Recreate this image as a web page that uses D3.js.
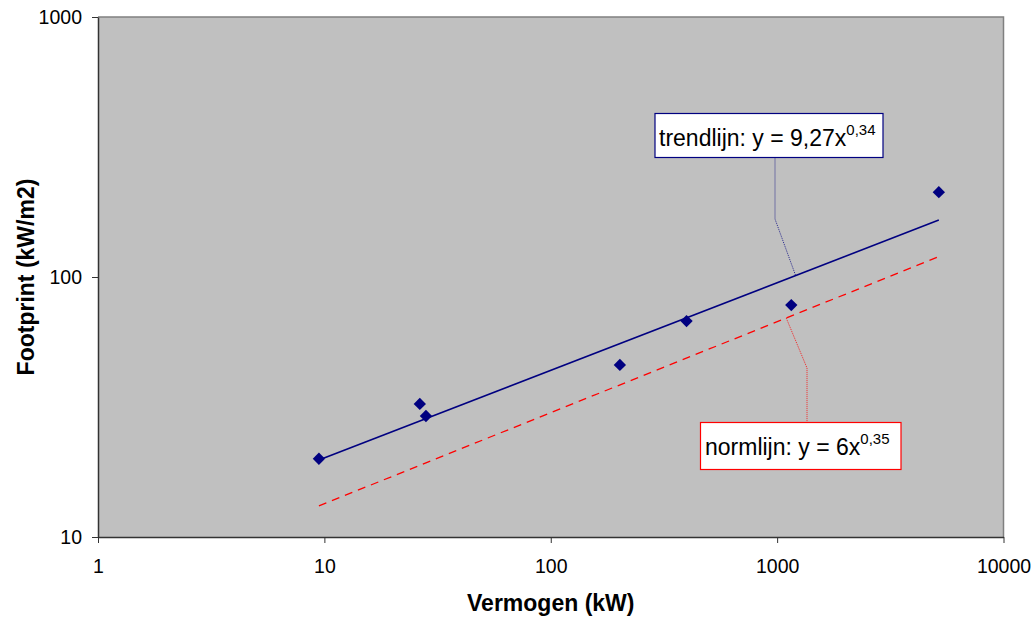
<!DOCTYPE html>
<html>
<head>
<meta charset="utf-8">
<script src="https://cdn.jsdelivr.net/npm/d3@7"></script>
<style>
  html, body { margin: 0; padding: 0; background: #fff; }
  svg { display: block; }
  text { font-family: "Liberation Sans", Arial, sans-serif; fill: #000; }
</style>
</head>
<body>
<svg id="chart" width="1036" height="618"></svg>
<script>
// ---- data ----
const powerKW     = [9.46, 26.4, 28.1, 202, 398, 1155, 5180];
const footprint   = [20.0, 32.5, 29.2, 45.9, 67.7, 78.0, 212];
const xTicks      = [1, 10, 100, 1000, 10000];
const yTicks      = [10, 100, 1000];
const xTickLabels = ["1", "10", "100", "1000", "10000"];
const yTickLabels = ["10", "100", "1000"];
// fitted power-law trend (label shows rounded exponent 0,34)
const trendCoef   = 9.27, trendExp = 0.337;
const normCoef    = 6,    normExp  = 0.35;
const xTitle = "Vermogen (kW)";
const yTitle = "Footprint (kW/m2)";
const trendLabel = ["trendlijn: y = 9,27x", "0,34"];
const normLabel  = ["normlijn: y = 6x", "0,35"];

// ---- layout ----
const svg = d3.select("#chart");
const plot = { left: 98, right: 1003.5, top: 17, bottom: 537 };

const x = d3.scaleLog().domain([1, 10000]).range([plot.left, plot.right]);
const y = d3.scaleLog().domain([10, 1000]).range([plot.bottom, plot.top]);

// plot area background
svg.append("rect")
  .attr("x", plot.left).attr("y", plot.top)
  .attr("width", plot.right - plot.left).attr("height", plot.bottom - plot.top)
  .attr("fill", "#C0C0C0").attr("stroke", "none");
// top/right border (gray)
svg.append("path")
  .attr("d", `M${plot.left},${plot.top}H${plot.right}V${plot.bottom}`)
  .attr("fill", "none").attr("stroke", "#808080").attr("stroke-width", 1.5);

// x axis
const xAxis = d3.axisBottom(x).tickValues(xTicks)
  .tickFormat((d, i) => xTickLabels[i]).tickSizeInner(6).tickSizeOuter(0).tickPadding(16);
const gx = svg.append("g").attr("transform", `translate(0,${plot.bottom})`).call(xAxis);
gx.select(".domain").attr("stroke", "#333").attr("stroke-width", 1.5);
gx.selectAll(".tick line").attr("stroke", "#333");
gx.selectAll(".tick text").attr("font-size", 19.5).attr("font-family", "Liberation Sans, Arial, sans-serif").attr("fill", "#000");

// y axis
const yAxis = d3.axisLeft(y).tickValues(yTicks)
  .tickFormat((d, i) => yTickLabels[i]).tickSizeInner(6).tickSizeOuter(0).tickPadding(10);
const gy = svg.append("g").attr("transform", `translate(${plot.left},0)`).call(yAxis);
gy.select(".domain").attr("stroke", "#333").attr("stroke-width", 1.5);
gy.selectAll(".tick line").attr("stroke", "#333");
gy.selectAll(".tick text").attr("font-size", 19.5).attr("font-family", "Liberation Sans, Arial, sans-serif").attr("fill", "#000");

// axis titles
svg.append("text")
  .attr("x", (plot.left + plot.right) / 2).attr("y", 611)
  .attr("text-anchor", "middle").attr("font-size", 23).attr("font-weight", "bold")
  .text(xTitle);
svg.append("text")
  .attr("transform", `translate(34,${(plot.top + plot.bottom) / 2}) rotate(-90)`)
  .attr("text-anchor", "middle").attr("font-size", 23).attr("font-weight", "bold")
  .text(yTitle);

// trend & norm lines
const xMin = d3.min(powerKW), xMax = d3.max(powerKW);
const line = d3.line().x(d => x(d[0])).y(d => y(d[1]));
const trendPts = [xMin, xMax].map(v => [v, trendCoef * Math.pow(v, trendExp)]);
const normPts  = [xMin, xMax].map(v => [v, normCoef * Math.pow(v, normExp)]);

svg.append("path").attr("d", line(normPts))
  .attr("fill", "none").attr("stroke", "#FF0000").attr("stroke-width", 1.3)
  .attr("stroke-dasharray", "8,6");
svg.append("path").attr("d", line(trendPts))
  .attr("fill", "none").attr("stroke", "#000080").attr("stroke-width", 1.6);

// data points (diamonds)
const diamond = d3.symbol().type(d3.symbolSquare).size(76);
svg.append("g").selectAll("path")
  .data(powerKW.map((v, i) => [v, footprint[i]]))
  .join("path")
  .attr("d", diamond)
  .attr("transform", d => `translate(${x(d[0])},${y(d[1])}) rotate(45)`)
  .attr("fill", "#000080");

// ---- labels with leader lines ----
function label(box, textPos, parts, color, leader) {
  svg.append("path")
    .attr("d", d3.line()(leader))
    .attr("fill", "none").attr("stroke", color).attr("stroke-width", 1)
    .attr("stroke-dasharray", "1,1").attr("opacity", 0.8);
  svg.append("rect")
    .attr("x", box[0]).attr("y", box[1]).attr("width", box[2]).attr("height", box[3])
    .attr("fill", "#fff").attr("stroke", color).attr("stroke-width", 1.2);
  const t = svg.append("text").attr("x", textPos[0]).attr("y", textPos[1]).attr("font-size", 23);
  t.append("tspan").text(parts[0]);
  t.append("tspan").attr("font-size", 15).attr("dy", -11).text(parts[1]);
}

// trend label: leader ends on the trend line
const trendAnchorX = 1207;
const ta = [x(trendAnchorX), y(trendCoef * Math.pow(trendAnchorX, trendExp))];
label([655, 113.5, 228, 44], [659, 146], trendLabel, "#000080",
  [[775, 157.5], [775, 219], ta]);

// norm label: leader starts on the norm line
const normAnchorX = 1097;
const na = [x(normAnchorX), y(normCoef * Math.pow(normAnchorX, normExp))];
label([700.5, 422.5, 200.5, 47], [705, 455], normLabel, "#FF0000",
  [na, [807, 368], [807, 422.5]]);
</script>
</body>
</html>
